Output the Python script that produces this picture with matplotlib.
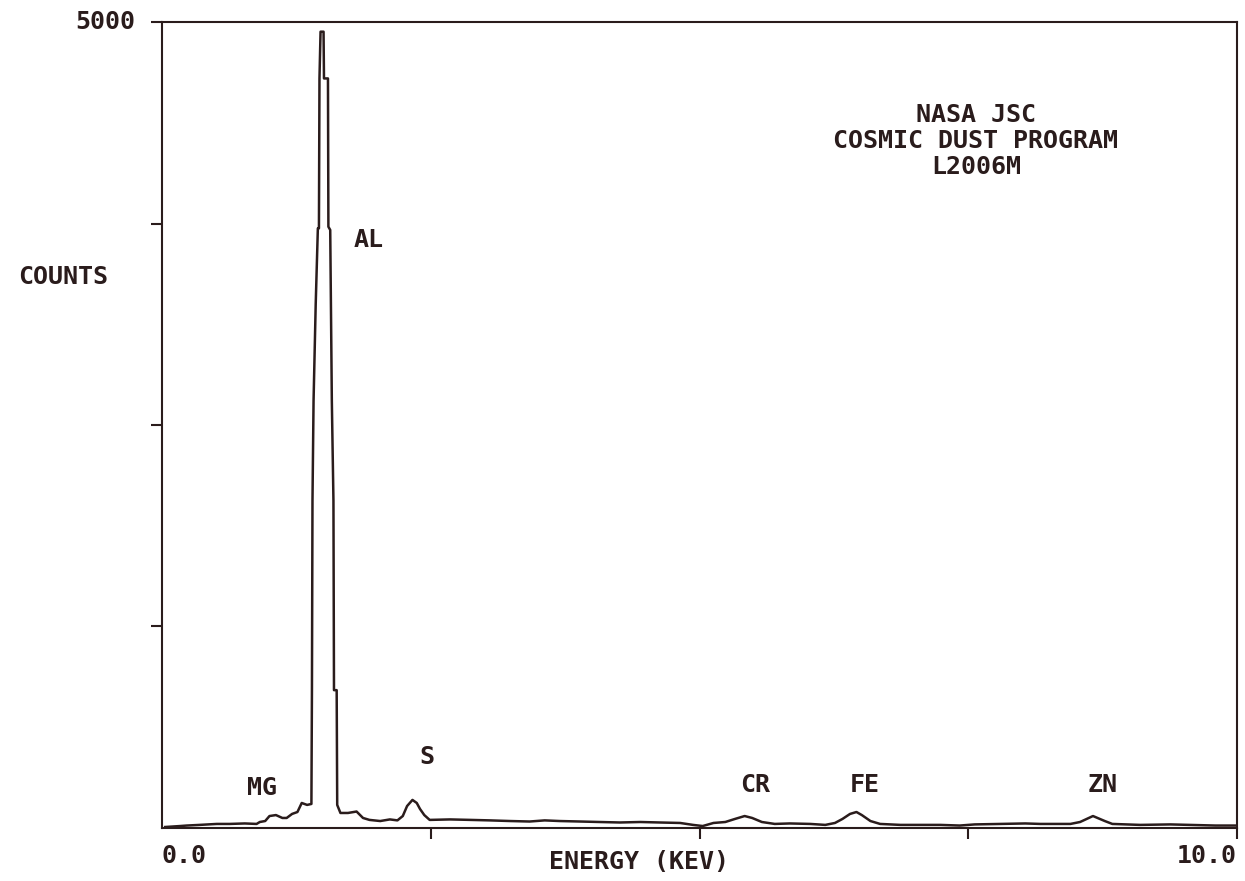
import matplotlib
matplotlib.use("Agg")
import matplotlib.pyplot as plt

# EDS spectrum (energy in keV, counts)
energy = [0.03, 0.17, 0.23, 0.35, 0.51, 0.63, 0.77, 0.88, 0.91, 0.96,
          1.00, 1.06, 1.12, 1.16, 1.21, 1.26, 1.30, 1.35, 1.39,
          1.395, 1.40, 1.41, 1.43, 1.45, 1.46, 1.465, 1.475, 1.48, 1.503, 1.507,
          1.544, 1.548, 1.565, 1.58, 1.595, 1.60, 1.625, 1.63, 1.66,
          1.73, 1.81, 1.87, 1.93, 2.03, 2.12, 2.19, 2.24, 2.28, 2.33, 2.37,
          2.40, 2.44, 2.49, 2.68, 2.87, 3.05, 3.24, 3.42, 3.56, 3.70, 3.89,
          4.07, 4.26, 4.45, 4.63, 4.82, 4.94, 5.03, 5.13, 5.24, 5.33, 5.42,
          5.49, 5.58, 5.70, 5.84, 6.03, 6.17, 6.26, 6.33, 6.40, 6.46, 6.51,
          6.59, 6.68, 6.87, 7.05, 7.24, 7.42, 7.56, 7.80, 8.03, 8.17, 8.45,
          8.54, 8.66, 8.77, 8.84, 9.10, 9.38, 9.56, 9.80, 9.99]
counts = [6, 12, 15, 19, 25, 25, 28, 25, 37, 43,
          74, 80, 62, 62, 87, 99, 155, 143, 149,
          855, 2030, 2650, 3250, 3720, 3720, 4650, 4940, 4940, 4940, 4650,
          4650, 3730, 3710, 2650, 2030, 855, 855, 143, 93,
          93, 102, 62, 50, 43, 53, 47, 74, 136, 174, 155,
          118, 80, 50, 53, 50, 47, 43, 40, 47, 43, 40,
          37, 34, 37, 34, 31, 19, 12, 31, 37, 56, 74,
          62, 37, 25, 28, 25, 19, 31, 56, 87, 99, 80,
          43, 25, 19, 19, 19, 15, 22, 25, 28, 25, 25,
          37, 74, 43, 25, 19, 22, 19, 15, 15]

peak_names = ["MG", "AL", "S", "CR", "FE", "ZN"]
peak_x = [0.93, 1.92, 2.46, 5.52, 6.54, 8.75]
peak_y = [245, 3650, 440, 265, 265, 265]

ink = "#2a1c1c"
fnt = dict(family="DejaVu Sans Mono", size=18, weight="bold", color=ink)

fig = plt.figure(figsize=(12.45, 8.81), dpi=100)
ax = fig.add_axes([0.1301, 0.0602, 0.8635, 0.9148])

ax.plot(energy, counts, color=ink, linewidth=1.8)
ax.set_xlim(0, 10)
ax.set_ylim(0, 5000)

for s in ax.spines.values():
    s.set_linewidth(1.5)
    s.set_color(ink)

ax.set_xticks([2.5, 5.0, 7.5, 10.0])
ax.set_yticks([1250, 2500, 3750, 5000])
ax.set_xticklabels([])
ax.set_yticklabels([])
ax.tick_params(axis="both", direction="out", length=8, width=1.5, color=ink)

for name, xx, yy in zip(peak_names, peak_x, peak_y):
    ax.text(xx, yy, name, ha="center", va="center", **fnt)

ax.text(7.57, 4262, "NASA JSC\nCOSMIC DUST PROGRAM\nL2006M", ha="center",
        va="center", linespacing=1.1, **fnt)

# axis annotations drawn like the plotter did
ax.text(0.0, -0.035, "0.0", transform=ax.transAxes, ha="left", va="center", **fnt)
ax.text(1.0, -0.035, "10.0", transform=ax.transAxes, ha="right", va="center", **fnt)
ax.text(0.444, -0.042, "ENERGY (KEV)", transform=ax.transAxes, ha="center", va="center", **fnt)
ax.text(-0.025, 1.0, "5000", transform=ax.transAxes, ha="right", va="center", **fnt)
ax.text(-0.092, 0.684, "COUNTS", transform=ax.transAxes, ha="center", va="center", **fnt)

fig.savefig("out.png", dpi=100)
